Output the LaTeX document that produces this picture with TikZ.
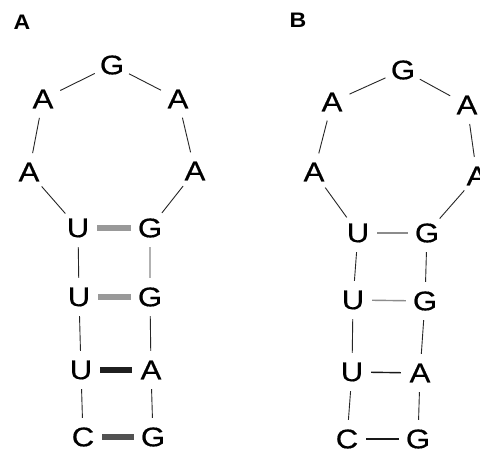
\documentclass[tikz,border=0pt]{standalone}
\usepackage{fontspec}
\setmainfont{Liberation Sans}
\newfontfamily\basefont[FakeStretch=1.15,FakeBold=0.6]{Liberation Sans}
\newfontfamily\panelfont[FakeStretch=1.1]{Liberation Sans}
\begin{document}
\begin{tikzpicture}[x=1pt,y=1pt,
  base/.style={circle,inner sep=0pt,minimum size=38pt,font=\basefont\fontsize{27}{27}\selectfont},
  panel/.style={inner sep=0pt,font=\panelfont\fontsize{21}{21}\selectfont\bfseries},
  bb/.style={line width=0.9pt,draw=black!85},
  barlt/.style={line width=6.5pt,draw=black!40},
  barbk/.style={line width=6.5pt,draw=black!88},
  bardk/.style={line width=6.5pt,draw=black!68},
  pgray/.style={line width=1.4pt,draw=black!45},
  pblack/.style={line width=1.4pt,draw=black!90}]
\clip (0,0) rectangle (480,452);
\fill[white] (0,0) rectangle (480,452);
% panel labels
\node[panel] (LA) at (22,430) {A};
\node[panel] (LB) at (298,432) {B};
% Panel A
\node[base] (aG) at (112,387) {G};
\node[base] (aA1) at (43,353) {A};
\node[base] (aA2) at (178,353) {A};
\node[base] (aA3) at (29,280) {A};
\node[base] (aA4) at (195,281) {A};
\node[base] (aU1) at (78,224) {U};
\node[base] (aG1) at (150,224) {G};
\node[base] (aU2) at (79,155) {U};
\node[base] (aG2) at (150,155) {G};
\node[base] (aU3) at (81,82) {U};
\node[base] (aA5) at (151,82) {A};
\node[base] (aC4) at (83,15) {C};
\node[base] (aG4) at (153,15) {G};
\draw[bb] (aU1) -- (aA3) -- (aA1) -- (aG) -- (aA2) -- (aA4) -- (aG1);
\draw[bb] (aU1) -- (aU2) -- (aU3) -- (aC4);
\draw[bb] (aG1) -- (aG2) -- (aA5) -- (aG4);
\draw[barlt] (aU1) -- (aG1);
\draw[barlt] (aU2) -- (aG2);
\draw[barbk] (aU3) -- (aA5);
\draw[bardk] (aC4) -- (aG4);
% Panel B
\node[base] (bG) at (403,382) {G};
\node[base] (bA1) at (332,350) {A};
\node[base] (bA2) at (467,347) {A};
\node[base] (bA3) at (314,280) {A};
\node[base] (bA4) at (477,276) {A};
\node[base] (bU1) at (358,219) {U};
\node[base] (bG1) at (427,219) {G};
\node[base] (bU2) at (353,152) {U};
\node[base] (bG2) at (425,151) {G};
\node[base] (bU3) at (352,80) {U};
\node[base] (bA5) at (420,79) {A};
\node[base] (bC4) at (347,13) {C};
\node[base] (bG4) at (418,13) {G};
\draw[bb] (bU1) -- (bA3) -- (bA1) -- (bG) -- (bA2) -- (bA4) -- (bG1);
\draw[bb] (bU1) -- (bU2) -- (bU3) -- (bC4);
\draw[bb] (bG1) -- (bG2) -- (bA5) -- (bG4);
\draw[pgray] (bU1) -- (bG1);
\draw[pgray] (bU2) -- (bG2);
\draw[pblack] (bU3) -- (bA5);
\draw[pblack] (bC4) -- (bG4);
\end{tikzpicture}
\end{document}
